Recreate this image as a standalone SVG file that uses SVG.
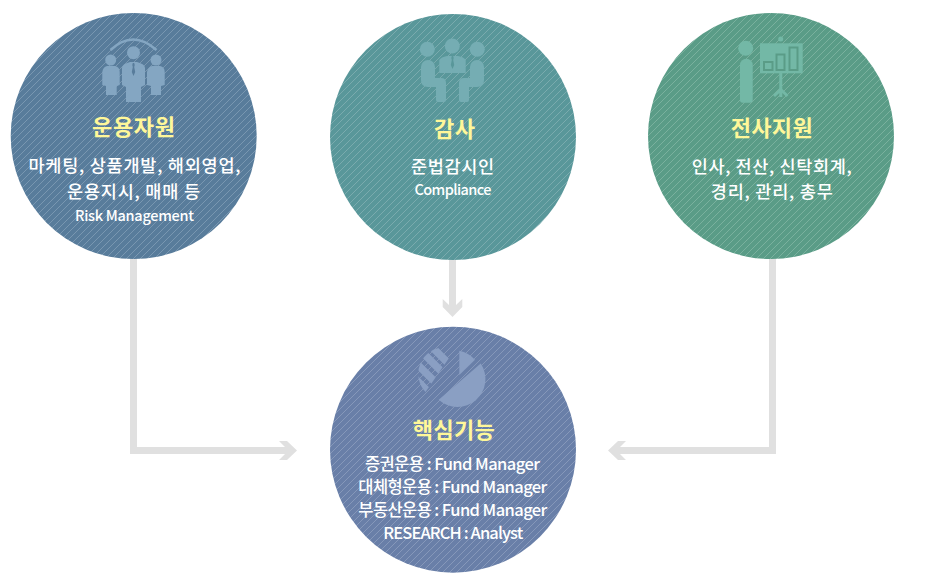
<svg xmlns="http://www.w3.org/2000/svg" width="927" height="583" viewBox="0 0 927 583">
<style>
text{font-family:"Noto Sans CJK KR","Noto Sans",sans-serif;text-anchor:middle;fill:#fff}
.t{font-size:22px;font-weight:700;fill:#fff799}
.b{font-size:17.500px;font-weight:500}
.n{font-size:16.500px;font-weight:500}
.s{font-size:14.500px;font-weight:500}
.c{fill:none;stroke:#e0e0e0;stroke-width:7}
.h{fill:#e0e0e0}
.l{stroke-width:1;stroke-opacity:.6}
</style>
<defs>
<pattern id="p1" width="7" height="7" patternUnits="userSpaceOnUse"><rect width="7" height="7" fill="#587c9b"/><path class="l" d="M-1 1L1-1M0 7L7 0M6 8L8 6" stroke="#8fa9bf"/></pattern>
<pattern id="p2" width="7" height="7" patternUnits="userSpaceOnUse"><rect width="7" height="7" fill="#59979a"/><path class="l" d="M-1 1L1-1M0 7L7 0M6 8L8 6" stroke="#8fb9bb"/></pattern>
<pattern id="p3" width="7" height="7" patternUnits="userSpaceOnUse"><rect width="7" height="7" fill="#5a9c87"/><path class="l" d="M-1 1L1-1M0 7L7 0M6 8L8 6" stroke="#90bfae"/></pattern>
<pattern id="p4" width="7" height="7" patternUnits="userSpaceOnUse"><rect width="7" height="7" fill="#697fa8"/><path class="l" d="M-1 1L1-1M0 7L7 0M6 8L8 6" stroke="#99a9c7"/></pattern>
<clipPath id="pieclip"><path d="M444.500 347.300L449 358L425.500 392A26.500 26.500 0 0 1 444.500 347.300Z"/></clipPath>
</defs>
<g id="connectors">
<path class="c" d="M133.500 255V450.500H285"/>
<path class="h" d="M279 441H287L297 450.500L287 460H279L285 454V447Z"/>
<path class="c" d="M452.500 255V305"/>
<path class="h" d="M442.700 299L449 305V299H456V305L462.300 299V307L452.500 317L442.700 307Z"/>
<path class="c" d="M772.500 255V450.500H620"/>
<path class="h" d="M626 441H618L608 450.500L618 460H626L620 454V447Z"/>
</g>
<g id="node-operations">
<circle cx="133.700" cy="136" r="123" fill="url(#p1)"/>
<g fill="#84a6c2">
<path d="M110.500 50Q133 29 156.500 50" fill="none" stroke="#84a6c2" stroke-width="2.500"/>
<circle cx="133.500" cy="52.700" r="6.500"/><circle cx="110.700" cy="60" r="5.500"/><circle cx="156" cy="60" r="5.500"/>
<path d="M122 68Q122 64 130 62H137Q145 64 145 68V85L141 87V102H126V87L122 85Z"/>
<path d="M102.300 72Q103 67 107 66H115Q119.700 67 119.700 72V85L116.700 86V95H106V86L102.300 85Z"/>
<path d="M147 72Q148 67 152 66H160Q164.700 67 164.700 72V85L161 86V95H151V86L147 85Z"/>
<path d="M132.800 63H134.200L134.700 65L134.200 67L135.200 72L133.500 76L131.800 72L132.800 67L132.300 65Z" fill="#587c9b"/>
</g>
<text class="t" x="133.500" y="135" textLength="83">운용자원</text>
<text class="b" x="134.500" y="172" textLength="212">마케팅, 상품개발, 해외영업,</text>
<text class="b" x="133.500" y="198" textLength="133">운용지시, 매매 등</text>
<text class="s" x="134.500" y="221" textLength="119">Risk Management</text>
</g>
<g id="node-audit">
<circle cx="453" cy="137" r="123" fill="url(#p2)"/>
<g fill="#75adb3">
<circle cx="427.300" cy="49.300" r="7.500"/><circle cx="452.300" cy="46" r="7.500"/><circle cx="477.300" cy="49.300" r="7.500"/>
<path d="M439.300 60Q441 57 447 56H458Q464 57 465.700 60V73H439.300Z"/>
<path id="seat" d="M421 67a7 7 0 0 1 14 0V78H441q5 0 5 5V100q0 2-2 2H438q-2 0-2-2V87H428q-7 0-7-7Z"/>
<use href="#seat" transform="translate(905) scale(-1 1)"/>
<path d="M451.800 56H453.200L453.700 58L453.200 60L454.200 65L452.500 69L450.800 65L451.800 60L451.300 58Z" fill="#59979a"/>
</g>
<text class="t" x="454.500" y="136.500" textLength="41">감사</text>
<text class="b" x="452.500" y="173" textLength="83">준법감시인</text>
<text class="s" x="453" y="195" textLength="77">Compliance</text>
</g>
<g id="node-support">
<circle cx="771" cy="136" r="123" fill="url(#p3)"/>
<g fill="#73b8a6">
<circle cx="745.700" cy="48.300" r="7.500"/>
<path d="M740 65a6.300 6.300 0 0 1 12.700 0V100q0 2.700-2.700 2.700H742.700q-2.700 0-2.700-2.700Z"/>
<circle cx="780.700" cy="39" r="2.500"/>
<rect x="760" y="43.300" width="42.700" height="30"/>
<path d="M779.300 73H782.300V89L788.500 95L786.500 97L782.300 93V97H779.300V93L775 97L773 95L779.300 89Z"/>
</g>
<g fill="none" stroke="#5a9c87" stroke-width="2">
<rect x="764" y="62" width="8.500" height="8"/><rect x="776.500" y="54.500" width="8" height="15.500"/><rect x="789.500" y="47.500" width="8" height="22.500"/>
</g>
<text class="t" x="771.700" y="136" textLength="82">전사지원</text>
<text class="b" x="771.700" y="173" textLength="160">인사, 전산, 신탁회계,</text>
<text class="b" x="771.800" y="198" textLength="122">경리, 관리, 총무</text>
</g>
<g id="node-core">
<circle cx="453" cy="449.700" r="123" fill="url(#p4)"/>
<g fill="#8a9fc3">
<path d="M459.300 350.700V375L475 359.700A28 28 0 0 0 459.300 350.700Z"/>
<path d="M438.700 399.800L480.700 363.400A28 28 0 0 1 438.700 399.800Z"/>
<g clip-path="url(#pieclip)" stroke="#8a9fc3" stroke-width="7.500" fill="none">
<path d="M425 340L455 370M420 350L450 380M415 362L445 392M410 373.500L440 403.500"/>
</g>
</g>
<text class="t" x="453.800" y="438" textLength="82">핵심기능</text>
<text class="n" x="452.500" y="470" textLength="175">증권운용 : Fund Manager</text>
<text class="n" x="452.800" y="493" textLength="189">대체형운용 : Fund Manager</text>
<text class="n" x="452.800" y="516" textLength="189">부동산운용 : Fund Manager</text>
<text class="n" x="453.300" y="539" textLength="140">RESEARCH : Analyst</text>
</g>
</svg>
